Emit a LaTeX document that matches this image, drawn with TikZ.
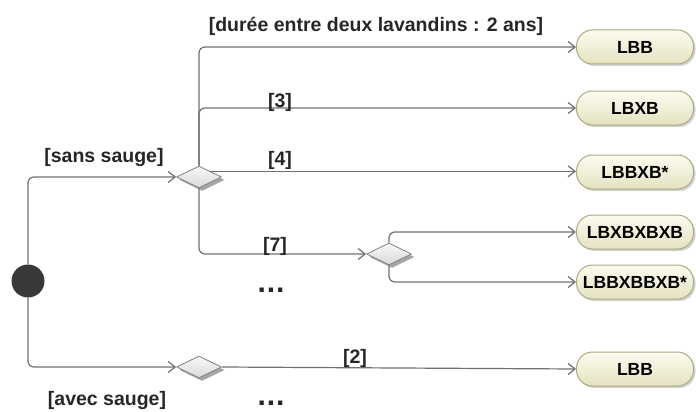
\documentclass[tikz,border=0pt]{standalone}
\usepackage{fontspec}
\setmainfont{Liberation Sans}
\usepackage{tikz}
\usetikzlibrary{positioning, calc, shapes.geometric, arrows.meta, shadows}
\definecolor{linec}{RGB}{112,112,112}
\definecolor{actborder}{RGB}{172,170,128}
\definecolor{acttop}{RGB}{252,252,240}
\definecolor{actbot}{RGB}{228,226,192}

\begin{document}
\begin{tikzpicture}[x=1pt, y=-1pt,
    flow/.style={draw=linec, line width=1.2pt, rounded corners=6pt, -{Straight Barb[length=7pt,width=11pt]}},
    act/.style={rectangle, rounded corners=16pt, draw=actborder, line width=1pt, top color=acttop, bottom color=actbot,
        minimum width=117pt, minimum height=34pt, font=\bfseries\fontsize{17.5}{19}\selectfont,
        drop shadow={opacity=0.35, shadow xshift=2pt, shadow yshift=-2pt}},
    choice/.style={diamond, aspect=2, minimum width=45pt, minimum height=22pt, inner sep=0pt, draw=gray, line width=0.8pt,
        top color=gray!5, bottom color=gray!30, drop shadow={fill=gray!70, opacity=1, shadow xshift=3pt, shadow yshift=-3pt}},
    lbl/.style={font=\bfseries\fontsize{19.5}{21}\selectfont, text=black!85, inner sep=1pt},
    more/.style={font=\bfseries\fontsize{30}{32}\selectfont, text=black!85, inner sep=0pt, anchor=base}]
    \useasboundingbox (0,0) rectangle (696,412);
    \node[circle, fill=black!78, minimum size=33pt, inner sep=0pt] (start) at (28,281) {};
    \node[choice] (d1) at (199,177) {};
    \node[choice] (d2) at (389,254) {};
    \node[choice] (d3) at (199,367) {};
    \node[act] (n1) at (635,47) {LBB};
    \node[act] (n2) at (635,108) {LBXB};
    \node[act] (n3) at (635,172) {LBBXB*};
    \node[act] (n4) at (635,232) {LBXBXBXB};
    \node[act] (n5) at (635,282) {LBBXBBXB*};
    \node[act] (n6) at (635,369) {LBB};
    \draw[flow] (start.north) |- (d1.west);
    \draw[flow] (start.south) |- (d3.west);
    \draw[flow] (d1.north) |- (n1.west);
    \draw[flow] (d1.north) |- (n2.west);
    \draw[flow] (d1.north east) -- (d1.north east -| n3.west);
    \draw[flow] (d1.south) |- (d2.west);
    \draw[flow] (d2.north) |- (n4.west);
    \draw[flow] (d2.south) |- (n5.west);
    \draw[flow] (d3.east) -- (n6.west);
    \node[lbl] (l1) at (376,26) {[durée entre deux lavandins : 2 ans]};
    \node[lbl] (l3) at (280,102) {[3]};
    \node[lbl] (l4) at (280,160) {[4]};
    \node[lbl] (ls) at (104,158) {[sans sauge]};
    \node[lbl] (l7) at (275,246) {[7]};
    \node[more] (dots1) at (271,292) {.\kern1pt.\kern1pt.};
    \node[lbl] (l2) at (355,358) {[2]};
    \node[lbl] (la) at (107,400) {[avec sauge]};
    \node[more] (dots2) at (271,405) {.\kern1pt.\kern1pt.};
\end{tikzpicture}
\end{document}
